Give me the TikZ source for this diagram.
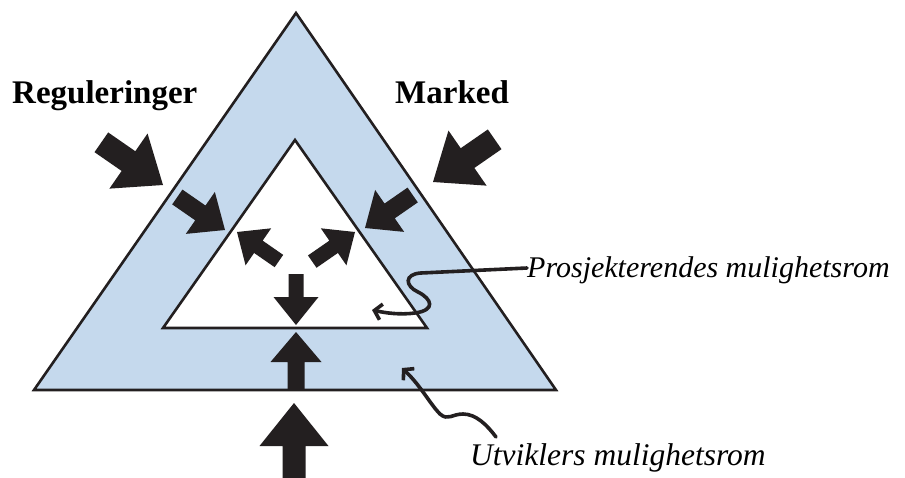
\documentclass[tikz,border=0pt]{standalone}
\usepackage{fontspec}
\setmainfont{Liberation Serif}
\usetikzlibrary{arrows.meta}
\definecolor{bandblue}{RGB}{197,217,237}
\definecolor{ink}{RGB}{35,31,32}
% block arrow: tip x, tip y, direction (deg), length, head length, head width, shaft width
\newcommand{\fatarrow}[7]{%
  \begin{scope}[shift={(#1,#2)},rotate=#3]
    \fill[ink] (0,0) -- (-#5,#6/2) -- (-#5,#7/2) -- (-#4,#7/2)
      -- (-#4,-#7/2) -- (-#5,-#7/2) -- (-#5,-#6/2) -- cycle;
  \end{scope}}
\tikzset{
  frame/.style={draw=ink,line width=2.6pt,line join=miter},
  bold label/.style={font=\fontsize{33}{36}\selectfont\bfseries,inner sep=0pt},
  note label/.style={font=\fontsize{30}{34}\selectfont\itshape,inner sep=0pt},
  squiggle/.style={draw=ink,line width=3.6pt,line cap=round,
    -{Straight Barb[length=7pt,width=16pt]}}
}
\begin{document}
\begin{tikzpicture}[x=1pt,y=-1pt]
  \useasboundingbox (0,0) rectangle (905,477);
  % outer and inner triangles
  \coordinate (oa) at (296,13);
  \coordinate (ol) at (34,390);
  \coordinate (or) at (556,390);
  \coordinate (ia) at (295,140);
  \coordinate (il) at (163,328);
  \coordinate (ir) at (427,328);
  \filldraw[frame,fill=bandblue] (oa) -- (or) -- (ol) -- cycle;
  \filldraw[frame,fill=white] (ia) -- (ir) -- (il) -- cycle;

  % pressure arrows from outside
  \fatarrow{163}{185}{-34.7}{75}{42}{67}{24}
  \fatarrow{433}{182}{214.7}{75}{42}{67}{24}
  \fatarrow{294}{403}{90}{78}{43}{69}{23}
  % arrows across the band
  \fatarrow{225}{230}{-34.7}{58}{30}{51}{18}
  \fatarrow{365}{228}{214.7}{58}{30}{51}{18}
  \fatarrow{296}{332}{90}{57}{30}{51}{17}
  % arrows inside the inner triangle
  \fatarrow{237}{232}{145.3}{51}{26}{45}{15}
  \fatarrow{355}{232}{34.7}{52}{26}{45}{15}
  \fatarrow{296}{325}{-90}{51}{28}{45}{15}

  % labels
  \node[bold label,anchor=base west] (reg) at (12,103) {Reguleringer};
  \node[bold label,anchor=base west] (mkt) at (395,103) {Marked};
  \node[note label,anchor=base west] (pro) at (527,277) {Prosjekterendes mulighetsrom};
  \node[note label,anchor=base west,font=\fontsize{31.5}{34}\selectfont\itshape]
    (utv) at (470,465) {Utviklers mulighetsrom};

  % wavy pointers
  \coordinate (protip) at (372,310);
  \coordinate (utvtip) at (402,368);
  \draw[squiggle] (pro.west |- 0,268) -- (421,273)
    .. controls (404,274) and (405,286) .. (418,292)
    .. controls (432,299) and (436,310) .. (415,313)
    .. controls (400,315) and (386,313) .. (protip);
  \draw[squiggle] (496,437)
    .. controls (487,425) and (476,414) .. (463,414)
    .. controls (452,414) and (448,421) .. (440,414)
    .. controls (430,404) and (421,386) .. (utvtip);
\end{tikzpicture}
\end{document}
